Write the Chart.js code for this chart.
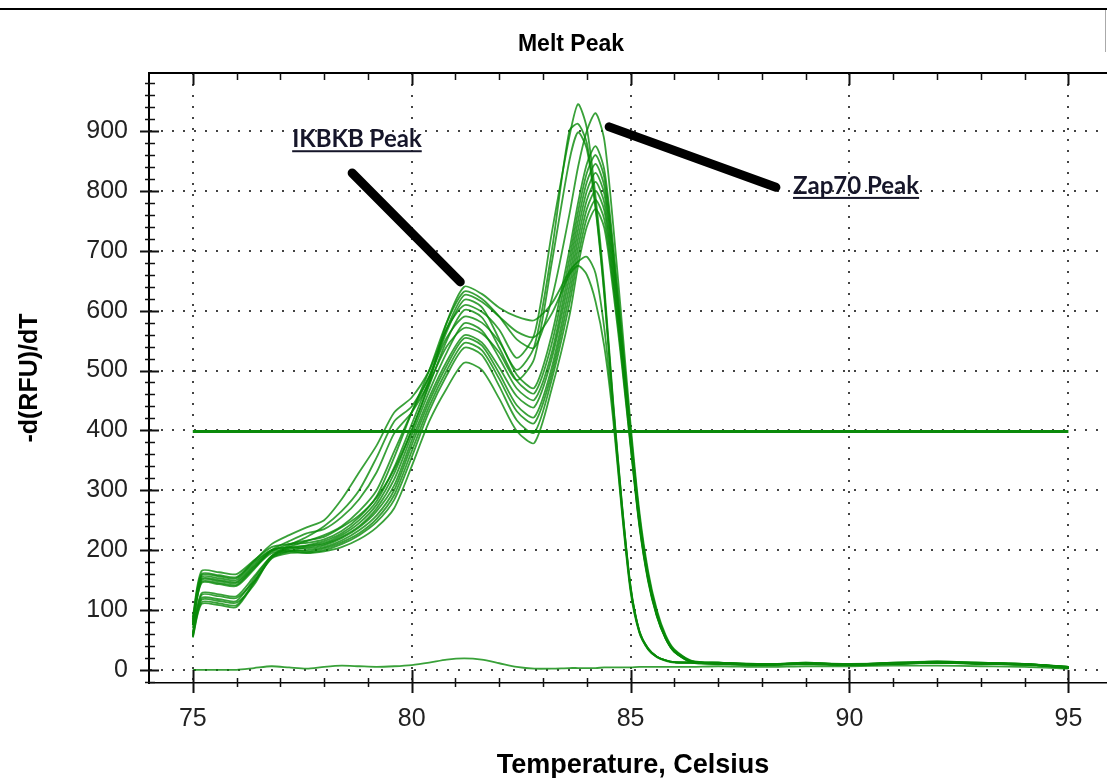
<!DOCTYPE html>
<html lang="en">
<head>
<meta charset="UTF-8">
<title>Melt Peak</title>
<style>
  html, body { margin: 0; padding: 0; overflow: hidden; background: #fff; }
  #meltChart { display: block; }
</style>
</head>
<body>
<canvas id="meltChart" width="1117" height="778"></canvas>

<script src="https://cdn.jsdelivr.net/npm/chart.js"></script>
<script>
    // temperature steps (Celsius) shared by every trace
    var temps = [75.0, 75.2, 75.6, 76.0, 76.4, 76.8, 77.2, 77.6, 78.0, 78.4, 78.8, 79.2, 79.6, 80.0, 80.4,
                 80.8, 81.2, 81.6, 82.0, 82.4, 82.8, 83.2, 83.6, 83.8, 84.0, 84.2, 84.4, 84.6, 84.8, 85.0,
                 85.2, 85.4, 85.6, 85.8, 86.0, 86.4, 87, 88, 89, 90, 91, 92, 93, 94, 95];

    // -d(RFU)/dT per well
    var wellA1 = [70, 150, 148, 145, 172, 198, 210, 216, 222, 238, 258, 288, 335, 400, 480, 580, 640, 628, 605, 590, 584, 612, 665, 682, 690, 662, 570, 430, 270, 135, 65, 35, 22, 16, 13, 12, 11, 9, 10, 9, 11, 12, 11, 10, 4];
    var wellA2 = [60, 125, 123, 120, 148, 188, 205, 215, 225, 240, 265, 300, 365, 430, 490, 570, 626, 615, 590, 565, 556, 595, 660, 675, 660, 615, 540, 420, 265, 130, 62, 34, 21, 15, 12, 12, 10, 9, 10, 9, 10, 12, 11, 9, 4];
    var wellA3 = [85, 160, 158, 155, 182, 210, 225, 238, 250, 285, 330, 375, 430, 455, 500, 570, 609, 598, 568, 521, 560, 730, 890, 945, 905, 790, 640, 450, 280, 140, 65, 36, 22, 16, 13, 12, 11, 9, 10, 9, 11, 13, 11, 10, 5];
    var wellA4 = [58, 117, 115, 112, 142, 190, 208, 222, 240, 265, 300, 355, 415, 440, 490, 555, 590, 580, 548, 501, 540, 700, 900, 912, 880, 775, 630, 445, 278, 138, 64, 35, 22, 16, 13, 12, 10, 9, 10, 9, 10, 12, 11, 9, 4];
    var wellA5 = [75, 145, 143, 140, 168, 200, 215, 228, 235, 255, 285, 330, 395, 430, 480, 540, 571, 562, 530, 484, 520, 680, 850, 898, 870, 770, 625, 440, 275, 136, 63, 35, 22, 16, 13, 12, 10, 9, 10, 9, 10, 12, 11, 9, 4];
    var wellB1 = [88, 165, 163, 160, 183, 205, 210, 212, 218, 232, 255, 290, 355, 430, 500, 580, 632, 620, 590, 552, 538, 620, 760, 840, 900, 930, 885, 745, 580, 410, 265, 165, 100, 58, 34, 15, 12, 9, 11, 9, 11, 13, 11, 9, 4];
    var wellB2 = [62, 128, 126, 123, 156, 190, 202, 208, 215, 228, 250, 282, 338, 410, 485, 565, 618, 606, 552, 493, 471, 560, 700, 780, 845, 875, 835, 710, 560, 400, 258, 160, 97, 56, 33, 14, 11, 8, 10, 8, 10, 12, 10, 10, 5];
    var wellB3 = [80, 155, 153, 150, 177, 200, 205, 207, 212, 225, 245, 276, 328, 400, 475, 550, 601, 589, 538, 483, 462, 545, 685, 765, 830, 860, 822, 700, 552, 395, 255, 158, 95, 55, 32, 14, 12, 9, 12, 9, 12, 14, 12, 9, 3];
    var wellB4 = [55, 113, 111, 108, 147, 187, 198, 205, 210, 222, 240, 270, 318, 392, 465, 530, 579, 567, 521, 470, 451, 530, 670, 750, 815, 845, 808, 690, 545, 390, 252, 156, 94, 54, 32, 14, 11, 8, 10, 10, 11, 12, 11, 10, 4];
    var wellB5 = [82, 158, 156, 153, 180, 200, 204, 203, 208, 220, 238, 265, 308, 383, 455, 515, 559, 547, 505, 457, 439, 520, 655, 735, 800, 830, 795, 680, 540, 388, 250, 155, 93, 54, 31, 13, 12, 10, 11, 9, 10, 13, 10, 9, 5];
    var wellB6 = [60, 120, 118, 115, 152, 190, 198, 200, 205, 216, 233, 258, 300, 375, 448, 508, 554, 542, 495, 442, 422, 505, 640, 720, 785, 815, 780, 668, 532, 384, 248, 153, 92, 53, 31, 13, 11, 9, 10, 8, 11, 12, 11, 8, 4];
    var wellB7 = [78, 152, 150, 147, 174, 198, 200, 198, 203, 213, 228, 252, 292, 365, 440, 500, 546, 534, 486, 432, 412, 495, 625, 705, 770, 800, 767, 657, 525, 380, 245, 152, 91, 53, 30, 13, 12, 8, 12, 9, 12, 13, 12, 10, 3];
    var wellB8 = [54, 110, 108, 105, 145, 186, 195, 196, 200, 210, 225, 247, 284, 355, 432, 492, 538, 526, 474, 417, 396, 485, 610, 690, 755, 785, 752, 646, 518, 376, 243, 150, 90, 52, 30, 13, 11, 9, 11, 10, 10, 14, 11, 9, 5];
    var wellB9 = [75, 147, 145, 142, 170, 195, 198, 195, 198, 205, 218, 238, 270, 340, 415, 470, 513, 501, 453, 399, 379, 470, 590, 675, 740, 770, 738, 635, 510, 372, 240, 148, 89, 52, 30, 12, 10, 8, 10, 8, 11, 12, 10, 9, 4];
    // no template control
    var wellNTC = [0, 0, 0, 0, 3, 6, 4, 2, 5, 7, 6, 5, 6, 8, 12, 17, 19, 17, 11, 5, 2, 2, 3, 3, 3, 3, 4, 4, 4, 4, 5, 5, 5, 5, 5, 5, 6, 5, 6, 6, 7, 7, 6, 5, 2];

    var wells = [wellA1, wellA2, wellA3, wellA4, wellA5, wellB1, wellB2, wellB3, wellB4, wellB5,
                 wellB6, wellB7, wellB8, wellB9, wellNTC];

    // threshold bar
    var thresholdTemps = [75, 95];
    var thresholdValue = 398;

    var xTickValues = [75, 80, 85, 90, 95];
    var yTickValues = [0, 100, 200, 300, 400, 500, 600, 700, 800, 900];

    // peak call-outs, in chart units (temperature, -d(RFU)/dT)
    var peakNotes = [
        { text: 'IKBKB Peak', at: [77.27, 873], from: [78.64, 830], to: [81.11, 648] },
        { text: 'Zap70 Peak', at: [88.71, 795], from: [84.51, 907], to: [88.32, 806] }
    ];


    var datasets = [];
    datasets.push({
        data: thresholdTemps.map(function (t) { return { x: t, y: thresholdValue }; }),
        borderColor: '#0b8a0b',
        borderWidth: 3,
        tension: 0
    });
    wells.forEach(function (w) {
        datasets.push({
            data: temps.map(function (t, i) { return { x: t, y: w[i] }; }),
            borderColor: 'rgba(8,138,8,0.8)',
            borderWidth: 1.8,
            tension: 0.25
        });
    });

    // tick marks that cross the axis lines, plus the frame lines
    var axisMarks = {
        id: 'axisMarks',
        afterDraw: function (chart) {
            var c = chart.ctx, a = chart.chartArea, x = chart.scales.x, y = chart.scales.y;
            c.save();
            c.fillStyle = '#000';
            c.fillRect(0, 8, chart.width, 2);
            c.fillStyle = '#aaa';
            c.fillRect(1105, 10, 1, 42);

            c.strokeStyle = '#000';
            c.lineWidth = 2;
            c.beginPath();
            c.moveTo(a.left, a.top);
            c.lineTo(a.right, a.top);
            c.stroke();

            c.strokeStyle = '#111';
            for (var t = 75; t <= 95; t++) {
                var major = t % 5 === 0;
                var px = Math.round(x.getPixelForValue(t)) + 0.5;
                c.lineWidth = major ? 2 : 1.5;
                c.beginPath();
                c.moveTo(px, a.bottom - (major ? 13 : 5));
                c.lineTo(px, a.bottom + (major ? 10 : 4));
                c.moveTo(px, a.top);
                c.lineTo(px, a.top + (major ? 12 : 7));
                c.stroke();
            }
            for (var v = -20; v <= 980; v += 20) {
                var big = v % 100 === 0;
                var py = Math.round(y.getPixelForValue(v)) + 0.5;
                c.lineWidth = big ? 2 : 1.5;
                c.beginPath();
                c.moveTo(a.left - (big ? 9 : 4), py);
                c.lineTo(a.left + (big ? 10 : 6), py);
                c.stroke();
            }
            c.restore();
        }
    };

    var peakLabels = {
        id: 'peakLabels',
        afterDatasetsDraw: function (chart) {
            var c = chart.ctx, x = chart.scales.x, y = chart.scales.y;
            c.save();
            c.lineCap = 'round';
            peakNotes.forEach(function (n) {
                c.strokeStyle = '#000';
                c.lineWidth = 9;
                c.beginPath();
                c.moveTo(x.getPixelForValue(n.from[0]), y.getPixelForValue(n.from[1]));
                c.lineTo(x.getPixelForValue(n.to[0]), y.getPixelForValue(n.to[1]));
                c.stroke();

                var tx = x.getPixelForValue(n.at[0]), ty = y.getPixelForValue(n.at[1]);
                c.font = 'bold 24px Lato';
                c.fillStyle = '#16162a';
                c.textBaseline = 'alphabetic';
                c.fillText(n.text, tx, ty);
                var w = c.measureText(n.text).width;
                c.fillRect(tx, ty + 3, w, 2);
            });
            c.restore();
        }
    };


    var tickFont = { family: 'Liberation Sans', size: 25 };
    var titleFont = { family: 'Liberation Sans', size: 23, weight: 'bold', lineHeight: 1.2 };

    var mychart = new Chart(document.getElementById('meltChart'), {
        type: 'line',
        data: { datasets: datasets },
        options: {
            responsive: false,
            animation: false,
            devicePixelRatio: 1,
            layout: { padding: { left: 25, right: 0, top: 0, bottom: 0 } },
            elements: { point: { radius: 0 } },
            plugins: {
                legend: { display: false },
                tooltip: { enabled: false },
                title: {
                    display: true,
                    text: 'Melt Peak',
                    color: '#000',
                    font: titleFont,
                    padding: { top: 31, bottom: 14.4 }
                }
            },
            scales: {
                x: {
                    type: 'linear',
                    min: 74,
                    max: 96.11,
                    afterFit: function (s) { s.height = 95; },
                    afterBuildTicks: function (s) {
                        s.ticks = xTickValues.map(function (v) { return { value: v }; });
                    },
                    ticks: { color: '#222', font: tickFont, padding: 21, maxRotation: 0, autoSkip: false },
                    grid: { color: '#444', lineWidth: 2, drawTicks: false },
                    border: { color: '#000', width: 1.5, dash: [2, 9] },
                    title: {
                        display: true, text: 'Temperature, Celsius', color: '#000',
                        font: { family: 'Liberation Sans', size: 27, weight: 'bold' },
                        padding: { top: 0, bottom: -4 }
                    }
                },
                y: {
                    min: -22,
                    max: 997,
                    afterFit: function (s) { s.width = 124; },
                    afterBuildTicks: function (s) {
                        s.ticks = yTickValues.map(function (v) { return { value: v }; });
                    },
                    ticks: { color: '#222', font: tickFont, padding: 21, autoSkip: false },
                    grid: { color: '#444', lineWidth: 2, drawTicks: false },
                    border: { color: '#000', width: 2, dash: [2, 9] },
                    title: {
                        display: true, text: '-d(RFU)/dT', color: '#000',
                        font: { family: 'Liberation Sans', size: 25, weight: 'bold' },
                        padding: { top: -10, bottom: 0 }
                    }
                }
            }
        },
        plugins: [axisMarks, peakLabels]
    });
</script>
</body>
</html>
